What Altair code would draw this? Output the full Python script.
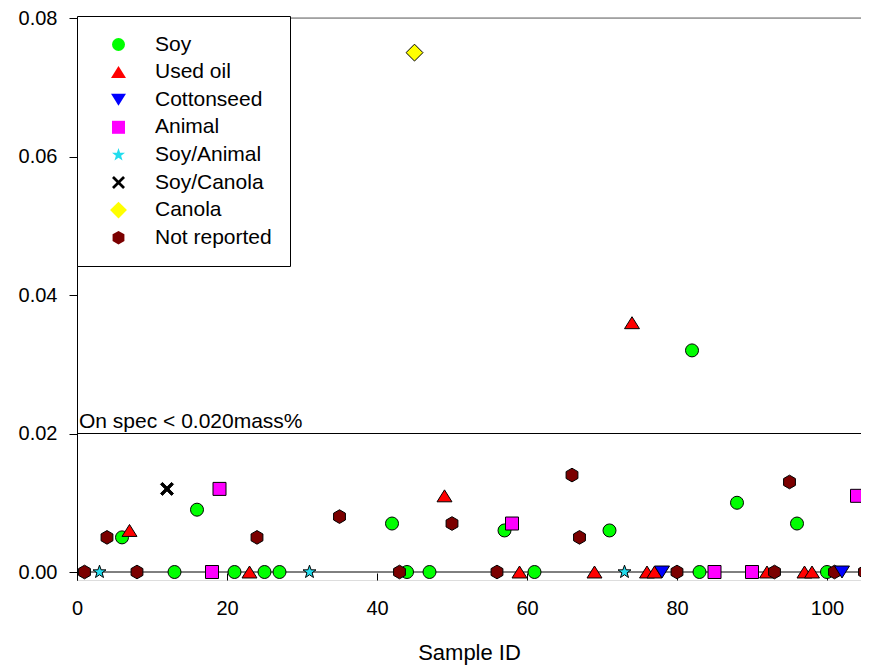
import altair as alt
import pandas as pd

# ---------------- data ----------------
categories = ["Soy", "Used oil", "Cottonseed", "Animal", "Soy/Animal",
              "Soy/Canola", "Canola", "Not reported"]

soy_x = [6, 13, 16, 21, 25, 27, 42, 44, 47, 57, 61, 71, 82, 83, 88, 96, 100]
soy_y = [0.005, 0, 0.009, 0, 0, 0, 0.007, 0, 0, 0.006, 0, 0.006, 0.032, 0, 0.010, 0.007, 0]

usedoil_x = [7, 23, 49, 59, 69, 74, 76, 77, 92, 97, 98]
usedoil_y = [0.006, 0, 0.011, 0, 0, 0.036, 0, 0, 0, 0, 0]

cotton_x = [78, 102]
cotton_y = [0, 0]

animal_x = [18, 19, 58, 85, 90, 104]
animal_y = [0, 0.012, 0.007, 0, 0, 0.011]

soyanimal_x = [3, 31, 73]
soyanimal_y = [0, 0, 0]

soycanola_x = [12]
soycanola_y = [0.012]

canola_x = [45]
canola_y = [0.075]

notrep_x = [1, 4, 8, 24, 35, 43, 50, 56, 66, 67, 80, 93, 95, 101, 105]
notrep_y = [0, 0.005, 0, 0.005, 0.008, 0, 0.007, 0, 0.014, 0.005, 0, 0, 0.013, 0, 0]

x_ticks = [0, 20, 40, 60, 80, 100]
y_ticks = [0, 0.02, 0.04, 0.06, 0.08]
ref_lines = [0, 0.02, 0.08]
spec_label = "On spec < 0.020mass%"

# ---------------- styles ----------------
colors = ["#00FF00", "#FF0000", "#0000FF", "#FF00FF", "#22DDEE",
          "#000000", "#FFFF00", "#7B0000"]
TRI_UP = "M0,-0.92L1.15,0.92L-1.15,0.92Z"
TRI_DOWN = "M-1.15,-0.92L1.15,-0.92L0,0.92Z"
STAR = ("M0,-1.05L0.247,-0.34L0.999,-0.325L0.399,0.13L0.617,0.85L0,0.42"
        "L-0.617,0.85L-0.399,0.13L-0.999,-0.325L-0.247,-0.34Z")
XSHAPE = ("M-1,-0.7L-0.7,-1L0,-0.3L0.7,-1L1,-0.7L0.3,0L1,0.7L0.7,1L0,0.3"
          "L-0.7,1L-1,0.7L-0.3,0Z")
DIAMOND = "M0,-1.3L1.3,0L0,1.3L-1.3,0Z"
HEX = "M0,-1.05L0.91,-0.525L0.91,0.525L0,1.05L-0.91,0.525L-0.91,-0.525Z"
shapes = ["circle", TRI_UP, TRI_DOWN, "square", STAR, XSHAPE, DIAMOND, HEX]
ref_colors = ["#000000", "#000000", "#666666"]

series = {
    "Soy": (soy_x, soy_y),
    "Used oil": (usedoil_x, usedoil_y),
    "Animal": (animal_x, animal_y),
    "Soy/Animal": (soyanimal_x, soyanimal_y),
    "Soy/Canola": (soycanola_x, soycanola_y),
    "Canola": (canola_x, canola_y),
    "Not reported": (notrep_x, notrep_y),
    "Cottonseed": (cotton_x, cotton_y),
}
rows = []
for name, (xs, ys) in series.items():
    for xv, yv in zip(xs, ys):
        rows.append({"sample": xv, "value": yv, "type": name})
df = pd.DataFrame(rows)

rule_df = pd.DataFrame({"value": ref_lines, "c": ref_colors})
text_df = pd.DataFrame({"sample": [0], "value": [0.02], "label": [spec_label]})

FONT = "Liberation Sans"
W, H = 784, 562
x_scale = alt.Scale(domain=[0, W / 7.5], nice=False, zero=False)
y_scale = alt.Scale(domain=[-0.001155, 0.08], nice=False, zero=False)

x_axis = alt.Axis(values=x_ticks, domain=False, grid=False, tickSize=7,
                  offset=-7, tickColor="black", labelFontSize=20,
                  labelFont=FONT, labelColor="black", labelPadding=18,
                  labelFlush=False, titleFontSize=22, titleFont=FONT,
                  titleColor="black", titleFontWeight="normal",
                  titlePadding=24)
y_axis = alt.Axis(values=y_ticks, format=".2f", grid=False, tickSize=8,
                  tickColor="black", domainColor="black", labelFontSize=20,
                  labelFont=FONT, labelColor="black", labelPadding=12,
                  labelFlush=False)

legend = alt.Legend(
    title=None, orient="none", legendX=0, legendY=-2, padding=18,
    symbolOffset=13, labelOffset=26, rowPadding=5.6, labelFontSize=21,
    labelFont=FONT, labelColor="black", symbolSize=169,
    symbolStrokeColor="black", symbolStrokeWidth=1, symbolOpacity=1,
    strokeColor="black", fillColor="white", labelLimit=400,
)

rules = alt.Chart(rule_df).mark_rule(strokeWidth=1).encode(
    y=alt.Y("value:Q", scale=y_scale, axis=y_axis, title=None),
    x=alt.value(0), x2=alt.value(W),
    color=alt.Color("c:N", scale=None),
)

points = alt.Chart(df).mark_point(
    filled=True, stroke="black", strokeWidth=1, size=169, opacity=1
).encode(
    x=alt.X("sample:Q", scale=x_scale, axis=x_axis, title="Sample ID"),
    y=alt.Y("value:Q", scale=y_scale, axis=y_axis, title=None),
    shape=alt.Shape("type:N", scale=alt.Scale(domain=categories, range=shapes),
                    legend=legend),
    fill=alt.Fill("type:N", scale=alt.Scale(domain=categories, range=colors),
                  legend=legend),
)

text = alt.Chart(text_df).mark_text(
    align="left", baseline="alphabetic", dx=2, dy=-6, fontSize=21,
    font=FONT, color="black"
).encode(
    x=alt.X("sample:Q", scale=x_scale, axis=x_axis, title="Sample ID"),
    y=alt.Y("value:Q", scale=y_scale, axis=y_axis, title=None),
    text="label:N",
)

chart = alt.layer(rules, points, text).properties(
    width=W, height=H,
    autosize=alt.AutoSizeParams(type="none"),
    padding={"left": 69, "top": 10, "right": 0, "bottom": 85},
).configure_view(stroke=None).configure(font=FONT)

chart.save("out.html", embed_options={"renderer": "svg", "actions": False})
